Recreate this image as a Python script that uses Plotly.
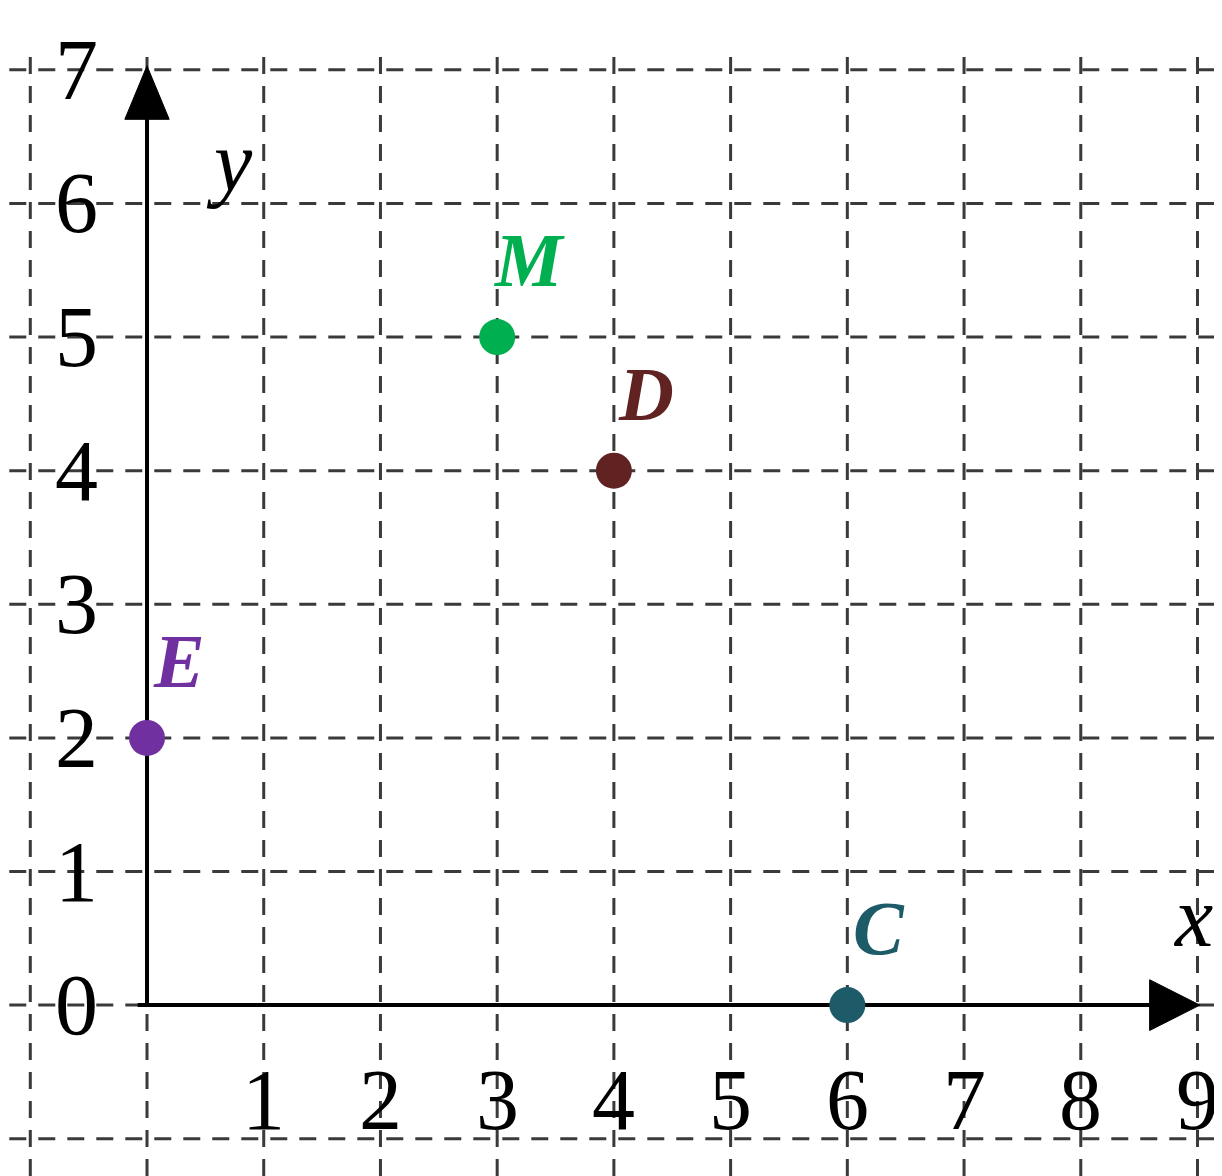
import plotly.graph_objects as go

# ---- data ----
POINT_NAMES = ["M", "D", "E", "C"]
POINT_X = [3, 4, 0, 6]
POINT_Y = [5, 4, 2, 0]
POINT_COLORS = ["#00b050", "#612322", "#7030a0", "#1e5b69"]

GRID_X = list(range(-1, 10))   # vertical dashed lines
GRID_Y = list(range(-1, 8))    # horizontal dashed lines
X_TICKS = list(range(1, 10))
Y_TICKS = list(range(0, 8))

X_RANGE = [-1.191, 9.21]
Y_RANGE = [-1.279, 7.463]

fig = go.Figure()

# dashed grid
gx, gy = [], []
for v in GRID_X:
    gx += [v, v, None]
    gy += [Y_RANGE[0], 7.15, None]
fig.add_trace(go.Scatter(x=gx, y=gy, mode="lines", hoverinfo="skip",
                         line=dict(color="#3a3a3a", width=3, dash="17px,12px")))
hx, hy = [], []
for v in GRID_Y:
    hx += [-1.18, 9.15, None]
    hy += [v, v, None]
fig.add_trace(go.Scatter(x=hx, y=hy, mode="lines", hoverinfo="skip",
                         line=dict(color="#3a3a3a", width=3, dash="17px,12px")))

# axes
X_END = 9.02
Y_END = 7.03
fig.add_trace(go.Scatter(x=[-0.08, X_END - 0.3], y=[0, 0], mode="lines",
                         line=dict(color="black", width=4), hoverinfo="skip"))
fig.add_trace(go.Scatter(x=[0, 0], y=[0, Y_END - 0.3], mode="lines",
                         line=dict(color="black", width=4), hoverinfo="skip"))

# arrow heads
AX_LEN, AX_HW = 0.43, 0.19   # x-arrow length (x units), half-height (y units)
AY_LEN, AY_HW = 0.40, 0.19   # y-arrow length (y units), half-width (x units)
fig.add_trace(go.Scatter(
    x=[X_END, X_END - AX_LEN, X_END - AX_LEN, X_END],
    y=[0, AX_HW, -AX_HW, 0], mode="lines", fill="toself",
    fillcolor="black", line=dict(color="black", width=1), hoverinfo="skip"))
fig.add_trace(go.Scatter(
    x=[0, AY_HW, -AY_HW, 0],
    y=[Y_END, Y_END - AY_LEN, Y_END - AY_LEN, Y_END], mode="lines", fill="toself",
    fillcolor="black", line=dict(color="black", width=1), hoverinfo="skip"))

# points
fig.add_trace(go.Scatter(x=POINT_X, y=POINT_Y, mode="markers",
                         marker=dict(size=36, color=POINT_COLORS, line=dict(width=0)),
                         hoverinfo="skip"))

annotations = []
for name, px, py, c in zip(POINT_NAMES, POINT_X, POINT_Y, POINT_COLORS):
    annotations.append(dict(x=px, y=py, text=f"<b><i>{name}</i></b>", showarrow=False,
                            xshift=32, yshift=77,
                            font=dict(family="Liberation Serif", size=76, color=c)))

TICK_FONT = dict(family="Liberation Serif", size=86, color="black")
for t in X_TICKS:
    annotations.append(dict(x=t, y=-0.71, text=str(t), showarrow=False, font=TICK_FONT))
for t in Y_TICKS:
    annotations.append(dict(x=-0.6, y=t, text=str(t), showarrow=False, font=TICK_FONT))

annotations.append(dict(x=0.71, y=6.32, text="<i>y</i>", showarrow=False,
                        font=dict(family="Liberation Serif", size=86, color="black")))
annotations.append(dict(x=8.96, y=0.66, text="<i>x</i>", showarrow=False,
                        font=dict(family="Liberation Serif", size=86, color="black")))

fig.update_layout(
    width=1214, height=1168,
    margin=dict(l=0, r=0, t=0, b=0),
    paper_bgcolor="white", plot_bgcolor="white",
    showlegend=False,
    xaxis=dict(range=X_RANGE, visible=False, fixedrange=True),
    yaxis=dict(range=Y_RANGE, visible=False, fixedrange=True),
    annotations=annotations,
)

fig.write_html("out.html")
